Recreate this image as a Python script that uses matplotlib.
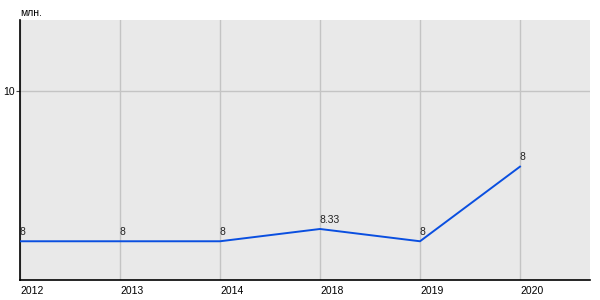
import matplotlib
matplotlib.use("Agg")
import matplotlib.pyplot as plt

years = ["2012", "2013", "2014", "2018", "2019", "2020"]
values = [2.05, 2.05, 2.05, 2.7, 2.05, 6.0]
point_labels = ["8", "8", "8", "8.33", "8", "8"]
y_ticks = [10]
unit = "млн."

plt.rcParams["font.family"] = ["Liberation Sans", "DejaVu Sans"]

fig = plt.figure(figsize=(6, 3), dpi=100)
ax = fig.add_axes([20 / 600, 20 / 300, 570 / 600, 260 / 300])
ax.set_facecolor("#e9e9e9")

x = list(range(len(years)))
ax.plot(x, values, color="#0a4fe0", linewidth=1.4, zorder=3)
for xi, v, lab in zip(x, values, point_labels):
    ax.annotate(lab, (xi, v), xytext=(0, 3), textcoords="offset points",
                ha="left", va="bottom", fontsize=7.5, color="#222222")

ax.set_xlim(0, 5.7)
ax.set_ylim(0, 13.76)
ax.set_xticks(x)
ax.set_xticklabels(years, ha="left", fontsize=7.5)
ax.set_yticks(y_ticks)
ax.set_yticklabels([str(t) for t in y_ticks], fontsize=7.5)
ax.tick_params(axis="x", length=0, pad=4)
ax.tick_params(axis="y", length=3, width=0.8, pad=1, color="#444444")
ax.grid(True, color="#c4c4c4", linewidth=1)
ax.set_axisbelow(True)
for s in ["top", "right"]:
    ax.spines[s].set_visible(False)
for s in ["left", "bottom"]:
    ax.spines[s].set_color("black")
    ax.spines[s].set_linewidth(1.2)

fig.text(20 / 600, 1 - 13 / 300, unit, fontsize=7.5, ha="left", va="center")

fig.savefig("out.png", dpi=100)
